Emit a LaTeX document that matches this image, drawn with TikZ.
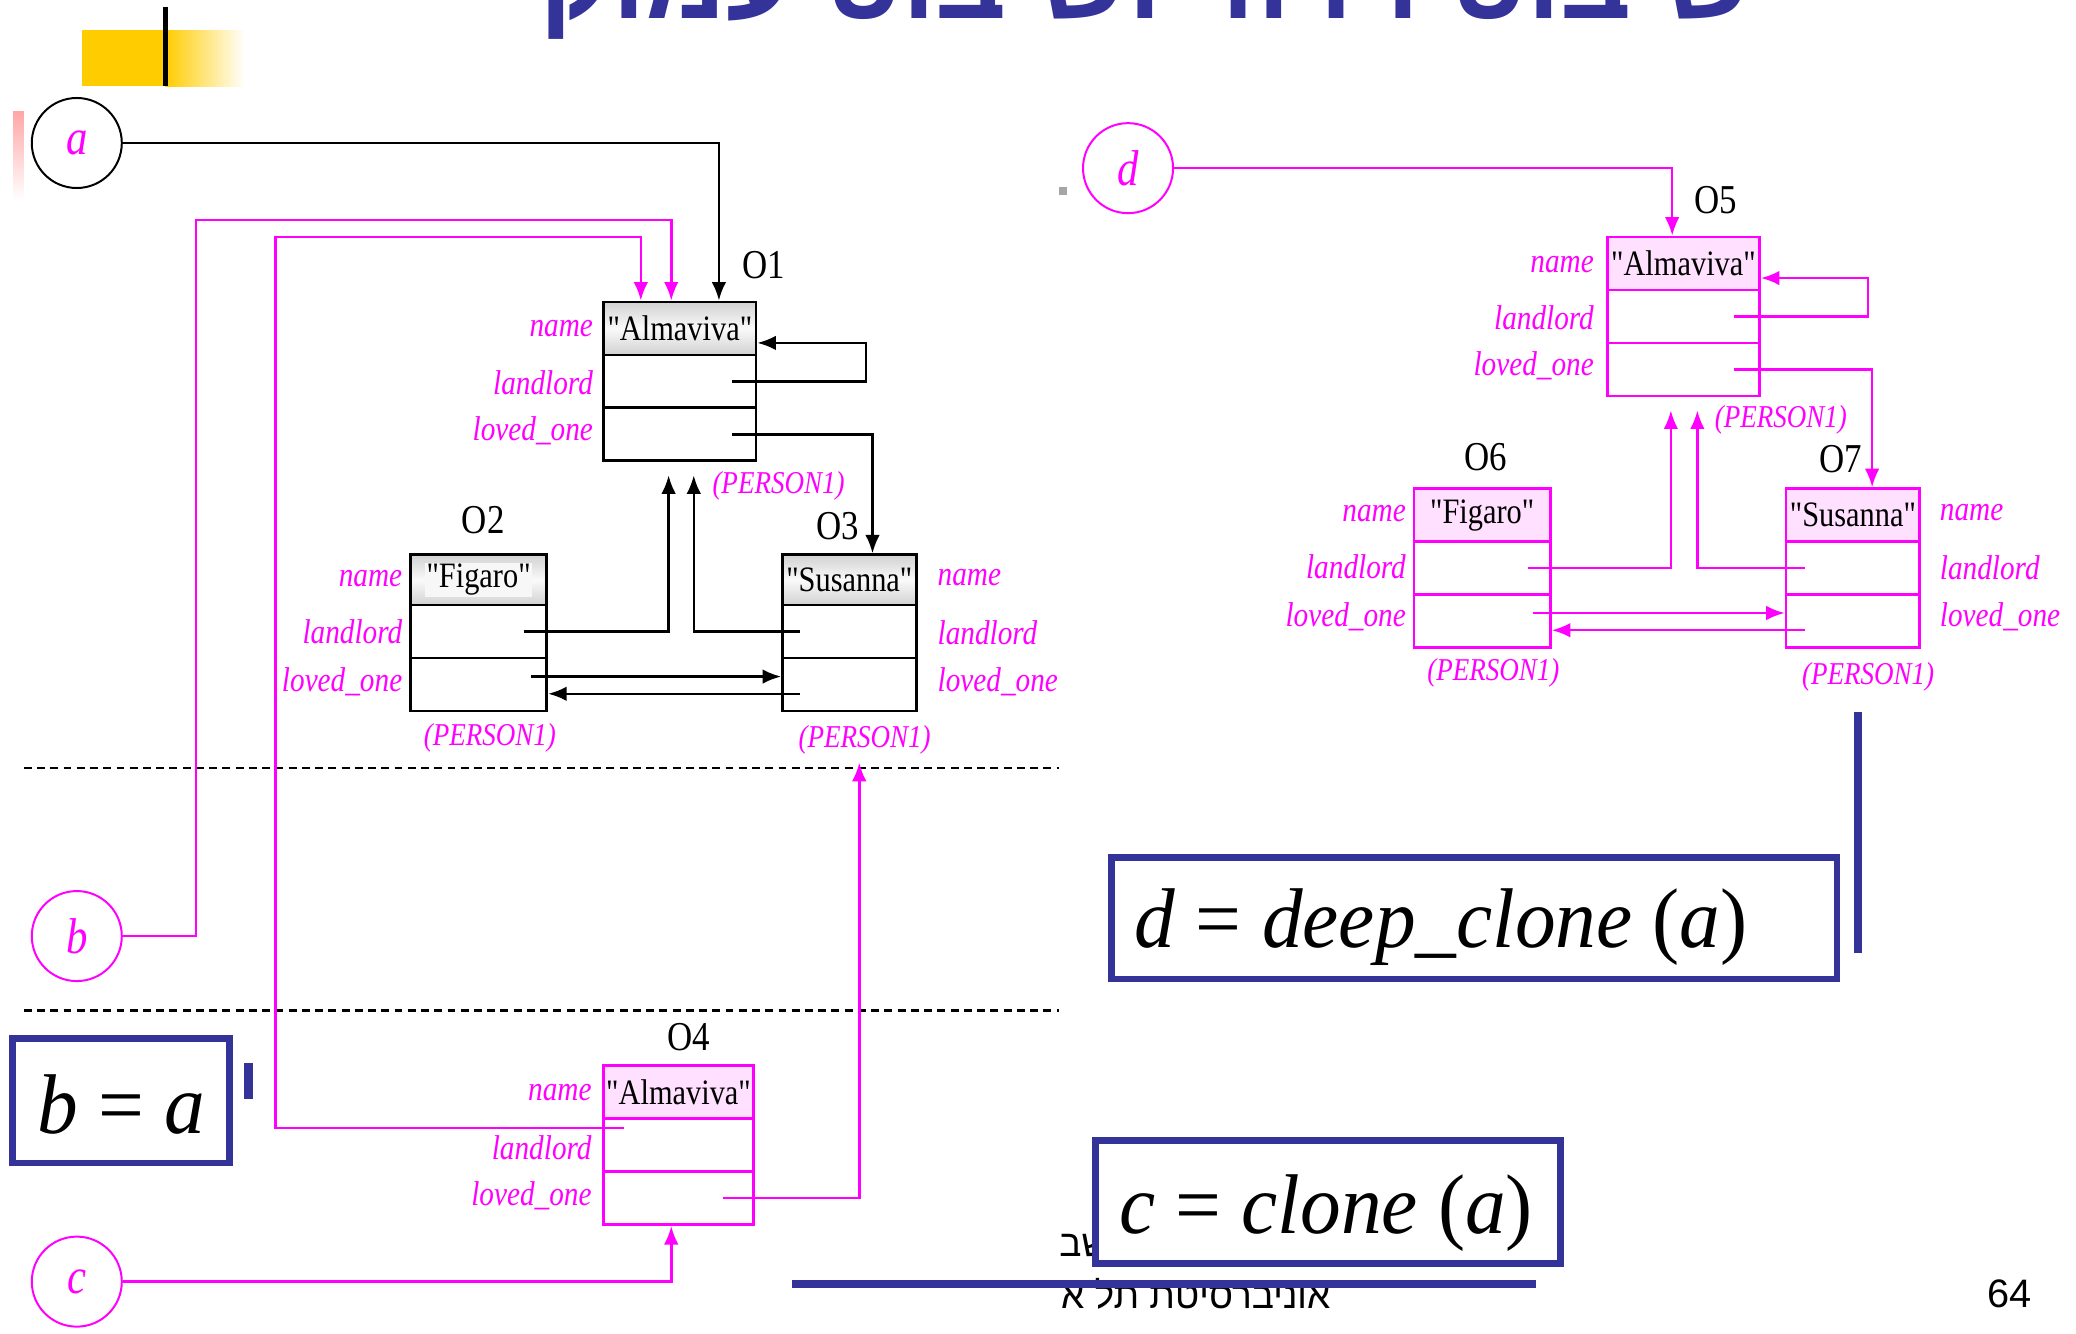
\documentclass[tikz,border=0pt]{standalone}
\usepackage{fontspec}
\setmainfont{Liberation Serif}
\newfontfamily\dg[FakeStretch=0.85]{Liberation Serif}
\newfontfamily\eqfont[FakeStretch=0.96]{Liberation Serif}
\newfontfamily\hebfont[Script=Hebrew]{Liberation Sans}
\newfontfamily\sansf{Liberation Sans}
\TeXXeTstate=1
\usetikzlibrary{arrows.meta,calc}
\definecolor{mag}{HTML}{FF00FF}
\definecolor{slideblue}{HTML}{333399}
\definecolor{slideyellow}{HTML}{FFCC00}
\definecolor{pinkfill}{HTML}{FFE0FF}
\begin{document}
\begin{tikzpicture}[x=1pt,y=-1pt,
  fieldrow/.style={draw, line width=2pt, rectangle, inner sep=0pt},
  grayrow/.style={fieldrow, top color=black!18, bottom color=black!18, middle color=black!2},
  pinkrow/.style={fieldrow, draw=mag, fill=pinkfill},
  magrow/.style={fieldrow, draw=mag},
  fld/.style={text=mag, font=\dg\itshape\fontsize{26}{28}\selectfont, inner sep=0pt},
  cls/.style={text=mag, font=\dg\itshape\fontsize{24}{26}\selectfont, inner sep=0pt},
  valtext/.style={font=\dg\fontsize{27}{30}\selectfont, inner sep=1pt},
  oid/.style={font=\dg\fontsize{31}{34}\selectfont, inner sep=0pt},
  refcircle/.style={circle, draw, line width=1.5pt, minimum size=68pt, inner sep=0pt, font=\dg\itshape\fontsize{38}{40}\selectfont, text=mag},
  arr/.style={line width=1.9pt, -{Latex[length=14pt,width=11pt]}},
  eqbox/.style={draw=slideblue, line width=5pt, fill=white, rectangle, inner sep=0pt},
  eqtext/.style={font=\eqfont\fontsize{64}{70}\selectfont, inner sep=0pt, anchor=base west}
]
\useasboundingbox (0,0) rectangle (1568,1007);
\clip (0,0) rectangle (1568,1007);

% slide decorations
\node[text=slideblue, font=\hebfont\bfseries\fontsize{84}{90}\selectfont, anchor=base east, inner sep=0pt] (title) at (1324,14) {\beginR שיבוט רדוד ושיבוט עמוק\endR};
\fill[slideyellow] (62,23) rectangle (125,65);
\shade[left color=slideyellow, right color=white] (125,23) rectangle (185,65);
\draw[line width=3.5pt] (125,5) -- (125,65);
\shade[top color=red!35!white, bottom color=white] (10,84) rectangle (18,151);
\fill[black!35] (800,141) rectangle (806,147);

% footer (partly hidden)
\begin{scope}
\clip (801,900) rectangle (1100,1007);
\node[font=\hebfont\fontsize{28}{30}\selectfont, anchor=base west, inner sep=0pt] (foot1) at (800,949) {\beginR בית הספר למדעי המחשב\endR};
\node[font=\hebfont\fontsize{28}{30}\selectfont, anchor=base east, inner sep=0pt] (foot2) at (1005,988) {\beginR אוניברסיטת תל אביב\endR};
\end{scope}
\node[font=\sansf\fontsize{30}{32}\selectfont, inner sep=0pt] (pageno) at (1518,977) {64};

% separators
\draw[line width=2pt, dash pattern=on 6pt off 4pt] (18,580) -- (800,580);
\draw[line width=2pt, dash pattern=on 6pt off 4pt] (18,763) -- (800,763);

% reference circles
\node[refcircle] (a) at (58,108) {a};
\node[refcircle, draw=mag] (b) at (58,707) {b};
\node[refcircle, draw=mag] (c) at (58,968) {c};
\node[refcircle, draw=mag] (d) at (852,127) {d};

% ---------- O1
\node[grayrow, minimum width=115pt, minimum height=40pt] (o1n) at (513.5,248) {};
\node[fieldrow, minimum width=115pt, minimum height=40pt] (o1l) at (513.5,288) {};
\node[fieldrow, minimum width=115pt, minimum height=40pt] (o1o) at (513.5,328) {};
\node[valtext] (o1v) at (o1n) {"Almaviva"};
\node[oid] (o1id) at (577,200) {O1};
\node[fld, anchor=east] (o1f1) at (448,248) {name};
\node[fld, anchor=east] (o1f2) at (448,289) {landlord};
\node[fld, anchor=east] (o1f3) at (448,325) {loved\_one};
\node[cls] (p1) at (588,367) {(PERSON1)};

% ---------- O2
\node[grayrow, minimum width=103pt, minimum height=38pt] (o2n) at (361.5,438) {};
\node[fieldrow, minimum width=103pt, minimum height=40pt] (o2l) at (361.5,477) {};
\node[fieldrow, minimum width=103pt, minimum height=40pt] (o2o) at (361.5,517) {};
\node[valtext, fill=black!3] (o2v) at (o2n) {"Figaro"};
\node[oid] (o2id) at (365,393) {O2};
\node[fld, anchor=east] (o2f1) at (304,437) {name};
\node[fld, anchor=east] (o2f2) at (304,477) {landlord};
\node[fld, anchor=east] (o2f3) at (304,515) {loved\_one};
\node[cls] (p2) at (370,557) {(PERSON1)};

% ---------- O3
\node[grayrow, minimum width=101pt, minimum height=38pt] (o3n) at (641.5,438) {};
\node[fieldrow, minimum width=101pt, minimum height=40pt] (o3l) at (641.5,477) {};
\node[fieldrow, minimum width=101pt, minimum height=40pt] (o3o) at (641.5,517) {};
\node[valtext] (o3v) at (o3n) {"Susanna"};
\node[oid] (o3id) at (633,397) {O3};
\node[fld, anchor=west] (o3f1) at (708,436) {name};
\node[fld, anchor=west] (o3f2) at (708,478) {landlord};
\node[fld, anchor=west] (o3f3) at (708,515) {loved\_one};
\node[cls] (p3) at (653,559) {(PERSON1)};

% ---------- O4
\node[pinkrow, minimum width=113pt, minimum height=40pt] (o4n) at (512.5,825) {};
\node[magrow, minimum width=113pt, minimum height=40pt] (o4l) at (512.5,865) {};
\node[magrow, minimum width=113pt, minimum height=40pt] (o4o) at (512.5,905) {};
\node[valtext] (o4v) at (o4n) {"Almaviva"};
\node[oid] (o4id) at (520,783) {O4};
\node[fld, anchor=east] (o4f1) at (447,825) {name};
\node[fld, anchor=east] (o4f2) at (447,867) {landlord};
\node[fld, anchor=east] (o4f3) at (447,903) {loved\_one};

% ---------- O5
\node[pinkrow, minimum width=115pt, minimum height=40pt] (o5n) at (1271.5,199) {};
\node[magrow, minimum width=115pt, minimum height=40pt] (o5l) at (1271.5,239) {};
\node[magrow, minimum width=115pt, minimum height=40pt] (o5o) at (1271.5,279) {};
\node[valtext] (o5v) at (o5n) {"Almaviva"};
\node[oid] (o5id) at (1296,151) {O5};
\node[fld, anchor=east] (o5f1) at (1204,200) {name};
\node[fld, anchor=east] (o5f2) at (1204,240) {landlord};
\node[fld, anchor=east] (o5f3) at (1204,276) {loved\_one};
\node[cls] (p5) at (1345,317) {(PERSON1)};

% ---------- O6
\node[pinkrow, minimum width=103pt, minimum height=40pt] (o6n) at (1119.5,389) {};
\node[magrow, minimum width=103pt, minimum height=40pt] (o6l) at (1119.5,429) {};
\node[magrow, minimum width=103pt, minimum height=40pt] (o6o) at (1119.5,469) {};
\node[valtext] (o6v) at (o6n) {"Figaro"};
\node[oid] (o6id) at (1122,345) {O6};
\node[fld, anchor=east] (o6f1) at (1062,388) {name};
\node[fld, anchor=east] (o6f2) at (1062,428) {landlord};
\node[fld, anchor=east] (o6f3) at (1062,466) {loved\_one};
\node[cls] (p6) at (1128,508) {(PERSON1)};

% ---------- O7
\node[pinkrow, minimum width=101pt, minimum height=40pt] (o7n) at (1399.5,389) {};
\node[magrow, minimum width=101pt, minimum height=40pt] (o7l) at (1399.5,429) {};
\node[magrow, minimum width=101pt, minimum height=40pt] (o7o) at (1399.5,469) {};
\node[valtext] (o7v) at (o7n) {"Susanna"};
\node[oid] (o7id) at (1390,347) {O7};
\node[fld, anchor=west] (o7f1) at (1465,387) {name};
\node[fld, anchor=west] (o7f2) at (1465,429) {landlord};
\node[fld, anchor=west] (o7f3) at (1465,466) {loved\_one};
\node[cls] (p7) at (1411,511) {(PERSON1)};

% ---------- connectors, left
\draw[arr] (a.east) -| ([xshift=29.5pt]o1n.north);
\draw[arr, color=mag] (b.east) -| (148,166) -| ([xshift=-6.5pt]o1n.north);
\draw[arr, color=mag] ([shift={(16pt,13pt)}]o4l.west) -| (208,179) -| ([xshift=-29.5pt]o1n.north);
\draw[arr] ([xshift=-19pt]o1l.east) -- ++(101,0) |- ([yshift=-11pt]o1n.east);
\draw[arr] ([xshift=-19pt]o1o.east) -| ([xshift=17.5pt]o3n.north);
\draw[arr] ([xshift=-18pt]o2l.east) -| ([shift={(-8.5pt,-10pt)}]o1o.south);
\draw[arr] ([xshift=14pt]o3l.west) -| ([shift={(10.5pt,-10pt)}]o1o.south);
\draw[arr] ([shift={(-13pt,6pt)}]o2o.east) -- ([yshift=6pt]o3o.west);
\draw[arr] ([shift={(14pt,-7pt)}]o3o.west) -- ([yshift=-7pt]o2o.east);
\draw[arr, color=mag] ([xshift=-24pt]o4o.east) -| ([shift={(-4pt,-6pt)}]p3.south);
\draw[arr, color=mag] (c.east) -| ([xshift=-5.5pt]o4o.south);

% ---------- connectors, right
\draw[arr, color=mag] (d.east) -| ([xshift=-8.5pt]o5n.north);
\draw[arr, color=mag] ([xshift=-20pt]o5l.east) -- ++(101,0) |- ([yshift=-11pt]o5n.east);
\draw[arr, color=mag] ([xshift=-20pt]o5o.east) -| ([xshift=14.5pt]o7n.north);
\draw[arr, color=mag] ([xshift=-18pt]o6l.east) -| ([shift={(-9.5pt,-10pt)}]o5o.south);
\draw[arr, color=mag] ([xshift=15pt]o7l.west) -| ([shift={(10.5pt,-10pt)}]o5o.south);
\draw[arr, color=mag] ([shift={(-14pt,6pt)}]o6o.east) -- ([yshift=6pt]o7o.west);
\draw[arr, color=mag] ([shift={(15pt,-7pt)}]o7o.west) -- ([yshift=-7pt]o6o.east);

% ---------- equation boxes and blue strokes
\node[eqbox, minimum width=164pt, minimum height=94pt] (bbox) at (91.5,831.5) {};
\node[eqtext] (btext) at (28,856) {\itshape b \upshape= \itshape a};
\fill[slideblue] (184,803) rectangle (191,830);
\node[eqbox, minimum width=548pt, minimum height=92pt] (dbox) at (1113.5,693.5) {};
\node[eqtext] (dtext) at (857,716) {\itshape d \upshape= \itshape deep\_clone \upshape(\itshape a\upshape)};
\draw[slideblue, line width=6pt] (1403,538) -- (1403,720);
\node[eqbox, minimum width=351pt, minimum height=93pt] (cbox) at (1003,908) {};
\node[eqtext] (ctext) at (845,932) {\itshape c \upshape= \itshape clone \upshape(\itshape a\upshape)};
\draw[slideblue, line width=6pt] (598,970) -- (1160,970);
\end{tikzpicture}
\end{document}
